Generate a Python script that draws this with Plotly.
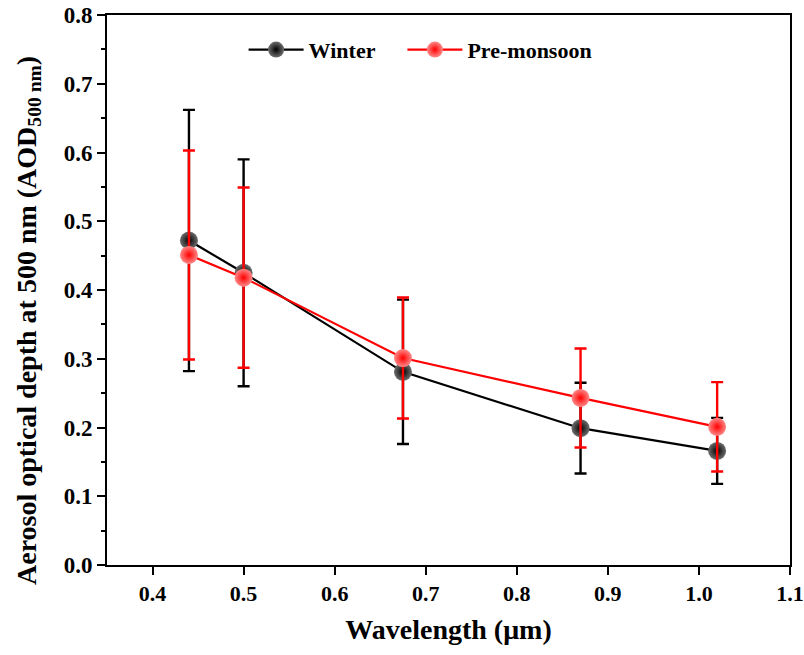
import plotly.graph_objects as go

wavelength = [0.44, 0.50, 0.675, 0.87, 1.02]
winter = [0.472, 0.425, 0.281, 0.199, 0.166]
winter_err = [0.190, 0.165, 0.105, 0.066, 0.048]
premonsoon = [0.451, 0.418, 0.301, 0.243, 0.201]
premonsoon_err = [0.152, 0.131, 0.088, 0.072, 0.065]
xticks = [0.4, 0.5, 0.6, 0.7, 0.8, 0.9, 1.0, 1.1]
yticks = [0.0, 0.1, 0.2, 0.3, 0.4, 0.5, 0.6, 0.7, 0.8]

font_family = "Liberation Serif"

fig = go.Figure()
fig.add_trace(go.Scatter(
    x=wavelength, y=winter, name="<b>Winter</b>&#160;&#160;&#160;&#160;", mode="lines+markers",
    line=dict(color="black", width=2.2),
    marker=dict(size=18, color="#6e6e6e", gradient=dict(type="radial", color="black"),
                line=dict(width=0)),
    error_y=dict(type="data", array=winter_err, visible=True, color="black",
                 thickness=2.4, width=6),
))
fig.add_trace(go.Scatter(
    x=wavelength, y=premonsoon, name="<b>Pre-monsoon</b>", mode="lines+markers",
    line=dict(color="red", width=2.2),
    marker=dict(size=18, color="#ff8a8a", gradient=dict(type="radial", color="red"),
                line=dict(width=0)),
    error_y=dict(type="data", array=premonsoon_err, visible=True, color="red",
                 thickness=2.4, width=6),
))

fig.update_layout(
    width=804, height=655,
    margin=dict(l=107, r=14, t=15, b=90, autoexpand=False),
    paper_bgcolor="white", plot_bgcolor="white",
    font=dict(family=font_family, color="black", size=23),
    legend=dict(orientation="h", x=0.2, y=0.975, xanchor="left", yanchor="top",
                font=dict(size=22, family=font_family), bgcolor="rgba(0,0,0,0)",
                itemwidth=55, tracegroupgap=0),
    showlegend=True,
    annotations=[dict(
        text="<b>Aerosol optical depth at 500 nm (AOD<sub>500 nm</sub>)</b>",
        xref="paper", yref="paper", x=-0.116, y=0.445, xanchor="center", yanchor="middle",
        textangle=-90, showarrow=False, font=dict(size=28, family=font_family),
    )],
)
fig.update_xaxes(
    range=[0.35, 1.1], tickvals=xticks,
    ticktext=["<b>%.1f</b>" % v for v in xticks],
    ticks="outside", ticklen=8, tickwidth=2, tickcolor="black",
    ticklabeloverflow="allow", tickfont=dict(size=22),
    showline=True, linecolor="black", linewidth=2, mirror=True,
    showgrid=False, zeroline=False, automargin=False,
    title=dict(text="<b>Wavelength (μm)</b>", font=dict(size=28), standoff=14),
)
fig.update_yaxes(
    range=[0, 0.8], tickvals=yticks, ticktext=["<b>%.1f</b>" % v for v in yticks],
    ticks="outside", ticklen=8, tickwidth=2, tickcolor="black",
    ticklabeloverflow="allow",
    minor=dict(dtick=0.05, ticks="outside", ticklen=4, tickwidth=1.5, tickcolor="black", showgrid=False),
    showline=True, linecolor="black", linewidth=2, mirror=True,
    showgrid=False, zeroline=False, automargin=False,
)

fig.write_html("out.html")
